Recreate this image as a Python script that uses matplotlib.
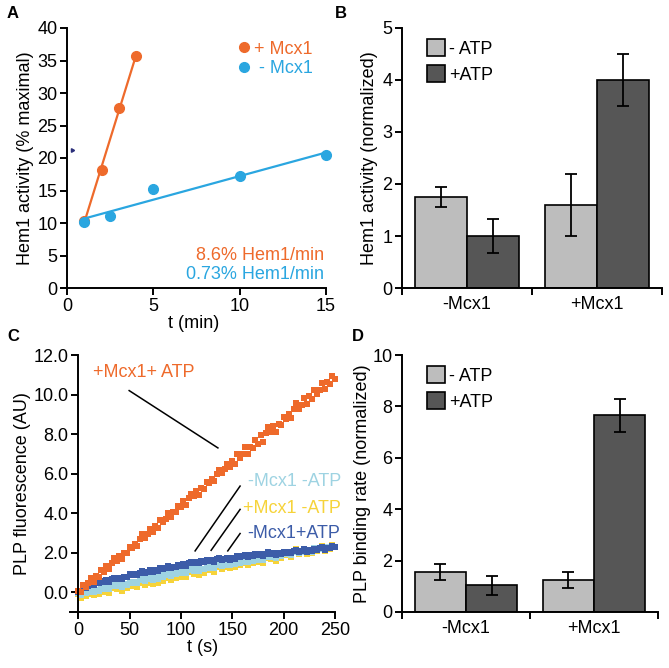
import numpy as np
import matplotlib
matplotlib.use("Agg")
import matplotlib.pyplot as plt

plt.rcParams['font.family'] = ['Liberation Sans', 'DejaVu Sans']
plt.rcParams['font.size'] = 13

ORANGE = '#EE6A2B'
CYAN = '#2AA6E0'
LBLUE = '#9ED3E2'
YELLOW = '#F6D33A'
DBLUE = '#3C5CA8'
LGRAY = '#BDBDBD'
DGRAY = '#565656'

# ---- panel A data
t_plus = [1, 2, 3, 4]
act_plus = [10.3, 18.1, 27.7, 35.7]
t_minus = [1, 2.5, 5, 10, 15]
act_minus = [10.1, 11.1, 15.2, 17.3, 20.4]

# ---- panel B data
groups = ['-Mcx1', '+Mcx1']
b_noatp = [1.75, 1.6]
b_noatp_err = [0.2, 0.6]
b_atp = [1.0, 4.0]
b_atp_err = [0.33, 0.5]

# ---- panel D data
d_noatp = [1.55, 1.25]
d_noatp_err = [0.3, 0.3]
d_atp = [1.05, 7.65]
d_atp_err = [0.37, 0.65]

# ---- panel C data (read every 2.5 s)
t_sec = np.arange(0, 250.1, 2.5)
plus_mcx_atp = [
    0.08, 0.01, 0.37, 0.28, 0.46, 0.72, 0.53, 0.81, 0.79, 1.10,
    1.03, 1.34, 1.16, 1.48, 1.72, 1.59, 1.84, 1.67, 1.99, 1.98,
    2.30, 2.26, 2.45, 2.36, 2.70, 2.94, 2.76, 2.95, 3.21, 3.04,
    3.34, 3.27, 3.63, 3.54, 3.72, 3.99, 3.80, 4.07, 4.05, 4.36,
    4.29, 4.60, 4.42, 4.75, 4.99, 4.85, 5.10, 4.93, 5.25, 5.24,
    5.56, 5.53, 5.72, 5.62, 5.96, 6.20, 6.02, 6.21, 6.47, 6.31,
    6.65, 6.48, 6.97, 6.78, 6.99, 7.34, 7.00, 7.37, 7.28, 7.68,
    7.52, 7.93, 7.61, 8.05, 8.35, 8.10, 8.42, 8.10, 8.52, 8.46,
    8.88, 8.78, 9.01, 8.82, 9.28, 9.57, 9.25, 9.48, 9.81, 9.52,
    9.91, 9.75, 10.24, 10.04, 10.25, 10.60, 10.26, 10.63, 10.54, 10.95,
    10.80]
minus_mcx_atp = [
    0.03, 0.03, 0.21, 0.21, 0.34, 0.43, 0.36, 0.47, 0.47, 0.58,
    0.53, 0.64, 0.54, 0.66, 0.73, 0.67, 0.74, 0.67, 0.79, 0.77,
    0.90, 0.87, 0.92, 0.87, 0.99, 1.07, 0.97, 1.03, 1.12, 1.03,
    1.13, 1.08, 1.21, 1.16, 1.24, 1.31, 1.21, 1.30, 1.27, 1.38,
    1.33, 1.44, 1.34, 1.46, 1.53, 1.47, 1.54, 1.46, 1.56, 1.52,
    1.63, 1.58, 1.62, 1.55, 1.67, 1.73, 1.62, 1.66, 1.75, 1.64,
    1.73, 1.68, 1.81, 1.76, 1.84, 1.89, 1.79, 1.86, 1.82, 1.91,
    1.86, 1.95, 1.84, 1.94, 2.01, 1.93, 1.99, 1.89, 1.99, 1.95,
    2.05, 2.00, 2.05, 1.98, 2.09, 2.15, 2.05, 2.09, 2.17, 2.06,
    2.16, 2.09, 2.21, 2.14, 2.22, 2.27, 2.16, 2.25, 2.22, 2.33,
    2.30]
plus_mcx_noatp = [
    -0.10, -0.30, 0.00, -0.18, -0.08, 0.10, -0.15, 0.02, -0.08, 0.15,
    -0.01, 0.22, -0.05, 0.20, 0.35, 0.14, 0.30, 0.05, 0.28, 0.19,
    0.42, 0.31, 0.41, 0.24, 0.49, 0.65, 0.38, 0.49, 0.66, 0.42,
    0.63, 0.48, 0.75, 0.59, 0.70, 0.89, 0.63, 0.83, 0.72, 0.95,
    0.79, 1.02, 0.75, 1.00, 1.15, 0.94, 1.10, 0.85, 1.08, 0.99,
    1.22, 1.11, 1.21, 1.04, 1.29, 1.45, 1.18, 1.29, 1.46, 1.22,
    1.43, 1.28, 1.55, 1.38, 1.47, 1.66, 1.38, 1.58, 1.47, 1.70,
    1.54, 1.77, 1.50, 1.75, 1.90, 1.69, 1.85, 1.60, 1.83, 1.74,
    1.97, 1.86, 1.96, 1.79, 2.04, 2.20, 1.93, 2.04, 2.21, 1.95,
    2.16, 1.99, 2.25, 2.08, 2.17, 2.36, 2.08, 2.28, 2.17, 2.40,
    2.30]
minus_mcx_noatp = [
    -0.05, -0.13, 0.03, -0.05, 0.02, 0.13, 0.02, 0.12, 0.08, 0.21,
    0.15, 0.27, 0.15, 0.30, 0.39, 0.29, 0.39, 0.28, 0.42, 0.37,
    0.51, 0.47, 0.54, 0.46, 0.61, 0.70, 0.58, 0.65, 0.75, 0.64,
    0.78, 0.69, 0.86, 0.78, 0.85, 0.95, 0.84, 0.95, 0.91, 1.03,
    0.97, 1.09, 0.97, 1.11, 1.19, 1.09, 1.19, 1.07, 1.20, 1.15,
    1.29, 1.24, 1.30, 1.22, 1.37, 1.45, 1.32, 1.39, 1.49, 1.37,
    1.50, 1.41, 1.58, 1.49, 1.55, 1.65, 1.54, 1.64, 1.59, 1.71,
    1.65, 1.77, 1.64, 1.78, 1.87, 1.77, 1.86, 1.74, 1.88, 1.83,
    1.96, 1.91, 1.97, 1.89, 2.03, 2.11, 1.98, 2.05, 2.14, 2.02,
    2.15, 2.06, 2.22, 2.13, 2.19, 2.29, 2.17, 2.27, 2.22, 2.34,
    2.30]

fig = plt.figure(figsize=(6.69, 6.68), dpi=100)
W, H = 669, 668


def add_ax(l, t, r, b):
    return fig.add_axes([l / W, 1 - b / H, (r - l) / W, (b - t) / H])


def style(ax):
    for s in ['top', 'right']:
        ax.spines[s].set_visible(False)
    for s in ['left', 'bottom']:
        ax.spines[s].set_linewidth(1.4)
    ax.tick_params(width=1.4, length=5, direction='out', labelsize=13, pad=2)


# ---------------- A
axA = add_ax(61, 28, 326, 288)
style(axA)
axA.set_xlim(-0.35, 15)
axA.set_ylim(0, 40)
axA.spines['left'].set_position(('data', 0))
axA.set_xticks([0, 5, 10, 15])
axA.set_yticks(range(0, 41, 5))
for tx, ty, c, lab in [(t_plus, act_plus, ORANGE, '+ Mcx1'),
                       (t_minus, act_minus, CYAN, ' - Mcx1')]:
    k, b0 = np.polyfit(tx, ty, 1)
    xx = np.array([min(tx), max(tx)])
    axA.plot(xx, k * xx + b0, color=c, lw=1.6, clip_on=False)
    axA.plot(tx, ty, 'o', color=c, ms=7, label=lab, clip_on=False)
axA.plot([0.3], [21.3], marker=(3, 0, 30), color='#2B2F7A', ms=3)
axA.legend(loc='upper right', frameon=False, handletextpad=0.0,
           labelspacing=0.15, borderaxespad=0.3, fontsize=13,
           labelcolor='linecolor', handlelength=1.2,
           bbox_to_anchor=(1.0, 1.0))
axA.text(14.9, 5.0, '8.6% Hem1/min', color=ORANGE, ha='right', va='center', fontsize=13)
axA.text(14.9, 2.1, '0.73% Hem1/min', color=CYAN, ha='right', va='center', fontsize=13)
axA.set_xlabel('t (min)', labelpad=0)
axA.set_ylabel('Hem1 activity (% maximal)', labelpad=2)
fig.text(7 / W, 1 - 14 / H, 'A', fontweight='bold', fontsize=12, va='center')


def bar_panel(ax, noatp, noatp_err, atp, atp_err, ymax, yt):
    style(ax)
    x = np.array([0.5, 1.5])
    ax.bar(x - 0.2, noatp, 0.4, color=LGRAY, edgecolor='black', lw=1.2,
           yerr=noatp_err, error_kw=dict(elinewidth=1.3, capsize=4, capthick=1.3),
           label='- ATP')
    ax.bar(x + 0.2, atp, 0.4, color=DGRAY, edgecolor='black', lw=1.2,
           yerr=atp_err, error_kw=dict(elinewidth=1.3, capsize=4, capthick=1.3),
           label='+ATP')
    ax.set_xlim(0, 2)
    ax.set_ylim(0, ymax)
    ax.set_yticks(yt)
    ax.set_xticks([0, 1, 2])
    ax.set_xticklabels([])
    ax.set_xticks(x, minor=True)
    ax.set_xticklabels(groups, minor=True)
    ax.tick_params(axis='x', which='minor', length=0, labelsize=13, pad=6)
    ax.legend(loc='upper left', frameon=False, handlelength=1.0, handleheight=1.1,
              handletextpad=0.2, labelspacing=0.4, fontsize=13,
              bbox_to_anchor=(0.035, 1.02))


# ---------------- B
axB = add_ax(402, 28, 662, 288)
bar_panel(axB, b_noatp, b_noatp_err, b_atp, b_atp_err, 5, range(0, 6))
axB.set_ylabel('Hem1 activity (normalized)', labelpad=3)
fig.text(335 / W, 1 - 14 / H, 'B', fontweight='bold', fontsize=12, va='center')

# ---------------- C
axC = add_ax(70, 355, 335, 612)
style(axC)
axC.set_xlim(-8, 250)
axC.set_ylim(-1, 12)
axC.spines['left'].set_position(('data', 0))
axC.spines['left'].set_bounds(-1.2, 12)
axC.set_xticks(range(0, 251, 50))
axC.set_yticks(np.arange(0, 12.1, 2))
axC.set_yticklabels([f'{v:.1f}' for v in np.arange(0, 12.1, 2)])
ms = 4.0
axC.plot(t_sec, plus_mcx_noatp, 's', color=YELLOW, ms=ms, mew=0, clip_on=False)
axC.plot(t_sec, minus_mcx_noatp, 's', color=LBLUE, ms=ms, mew=0, clip_on=False)
axC.plot(t_sec, minus_mcx_atp, 's', color=DBLUE, ms=ms, mew=0, clip_on=False)
axC.plot(t_sec, plus_mcx_atp, 's', color=ORANGE, ms=ms, mew=0, clip_on=False)
axC.text(14, 11.1, '+Mcx1+ ATP', color=ORANGE, va='center', fontsize=13)
axC.plot([49.6, 136], [10.2, 7.3], color='black', lw=1.1)
axC.plot([157.6, 113.8], [5.37, 2.09], color='black', lw=1.1)
axC.plot([157.6, 129.4], [4.19, 2.12], color='black', lw=1.1)
axC.plot([157.6, 145.6], [2.97, 2.09], color='black', lw=1.1)
axC.text(165, 5.58, '-Mcx1 -ATP', color=LBLUE, va='center', fontsize=13, clip_on=False)
axC.text(160, 4.24, '+Mcx1 -ATP', color=YELLOW, va='center', fontsize=13, clip_on=False)
axC.text(165, 2.97, '-Mcx1+ATP', color=DBLUE, va='center', fontsize=13, clip_on=False)
axC.set_xlabel('t (s)', labelpad=0)
axC.set_ylabel('PLP fluorescence (AU)', labelpad=2)
fig.text(7 / W, 1 - 337 / H, 'C', fontweight='bold', fontsize=12, va='center')

# ---------------- D
axD = add_ax(402, 355, 658, 612)
bar_panel(axD, d_noatp, d_noatp_err, d_atp, d_atp_err, 10, range(0, 11, 2))
axD.set_ylabel('PLP binding rate (normalized)', labelpad=1)
fig.text(352 / W, 1 - 337 / H, 'D', fontweight='bold', fontsize=12, va='center')

fig.savefig('out.png', dpi=100)
